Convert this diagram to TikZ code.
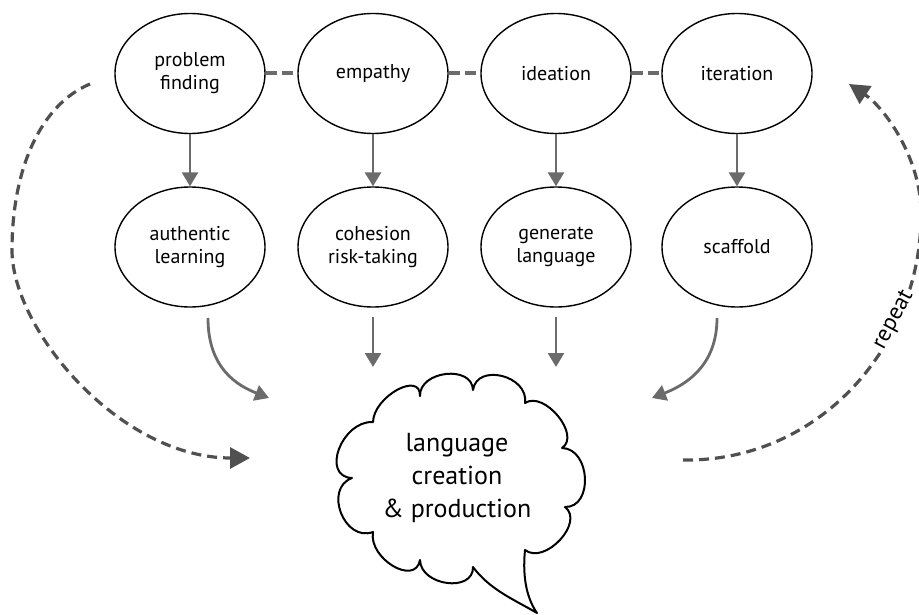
\documentclass[tikz,border=0pt]{standalone}
\usepackage{fontspec}
\setmainfont{PT Sans}
\usetikzlibrary{arrows.meta,calc,shapes.geometric}
\definecolor{flowgray}{HTML}{6B6B6B}
\definecolor{loopgray}{HTML}{505050}
% one rounded lobe of the speech cloud: start #1, apex #2, end #3
\newcommand\cloudlobe[3]{.. controls ($0.3333*(#1)+1.3333*(#2)-0.6667*(#3)$) and ($1.3333*(#2)+0.3333*(#3)-0.6667*(#1)$) .. (#3)}
\begin{document}
\begin{tikzpicture}[x=1pt,y=-1pt,
  idea/.style={ellipse, draw=black, line width=1.4pt, minimum width=150pt,
    minimum height=120pt, inner sep=0pt, align=center,
    font=\fontsize{20}{23}\selectfont},
  link/.style={draw=flowgray, line width=4pt, dash pattern=on 11pt off 5pt},
  flow/.style={draw=flowgray, line width=2.8pt, -{Triangle[length=14pt,width=16pt]}},
  loopback/.style={draw=loopgray, line width=3.2pt, dash pattern=on 10pt off 6pt,
    -{Triangle[length=20pt,width=21pt]}},
  cloudline/.style={draw=black, line width=2pt, line join=round}
]
\useasboundingbox (0,0) rectangle (919,615);

% stages of the process
\node[idea] (pf) at (190,73.5) {problem\\finding};
\node[idea] (em) at (373,73.5) {empathy};
\node[idea] (id) at (556,73.5) {ideation};
\node[idea] (it) at (737,73.5) {iteration};

% what each stage brings
\node[idea] (al) at (190,247) {authentic\\learning};
\node[idea] (co) at (373,247) {cohesion\\risk-taking};
\node[idea] (ge) at (556,247) {generate\\language};
\node[idea] (sc) at (737,247) {scaffold};

\draw[link] (pf) -- (em);
\draw[link] (em) -- (id);
\draw[link] (id) -- (it);

\draw[flow] (pf) -- (al);
\draw[flow] (em) -- (co);
\draw[flow] (id) -- (ge);
\draw[flow] (it) -- (sc);

% arrows into the speech cloud
\coordinate (alfoot) at (208,318);
\coordinate (alin)   at (269,398);
\coordinate (cofoot) at (373,317);
\coordinate (coin)   at (373,367);
\coordinate (gefoot) at (556,317);
\coordinate (gein)   at (556,367);
\coordinate (scfoot) at (717,318);
\coordinate (scin)   at (652,398);

\draw[flow] (alfoot) .. controls (208,360) and (228,382) .. (alin);
\draw[flow] (cofoot) -- (coin);
\draw[flow] (gefoot) -- (gein);
\draw[flow] (scfoot) .. controls (717,360) and (693,382) .. (scin);

% speech cloud
\draw[cloudline] (373,422)
  \cloudlobe{373,422}{397,390}{420,396}
  \cloudlobe{420,396}{446,374}{473,390}
  \cloudlobe{473,390}{502,376}{525,403}
  \cloudlobe{525,403}{558,416}{562,448}
  \cloudlobe{562,448}{585,478}{565,507}
  \cloudlobe{565,507}{560,540}{525,550}
  .. controls (522,580) and (528,600) .. (537,613)
  .. controls (515,600) and (490,590) .. (473,567)
  \cloudlobe{473,567}{447,583}{420,560}
  \cloudlobe{420,560}{393,566}{373,532}
  \cloudlobe{373,532}{341,513}{352,478}
  \cloudlobe{352,478}{339,449}{373,422}
  -- cycle;
\node[font=\fontsize{26}{33}\selectfont, align=center] (speech) at (457,478)
  {language\\creation\\\& production};

% outer loops
\coordinate (lstart) at (90,84);
\coordinate (lend)   at (250,458);
\coordinate (rstart) at (683,460);
\coordinate (rend)   at (849,84);

\draw[loopback] (lstart) .. controls (40,105) and (12,170) .. (12,250)
  .. controls (12,330) and (120,458) .. (lend);
\draw[loopback] (rstart) .. controls (820,462) and (921,345) .. (921,215)
  .. controls (922,160) and (885,108) .. (rend);
\node[fill=white, inner sep=3pt, rotate=62, font=\fontsize{23}{27}\selectfont]
  (rep) at (894,320) {repeat};
\end{tikzpicture}
\end{document}
